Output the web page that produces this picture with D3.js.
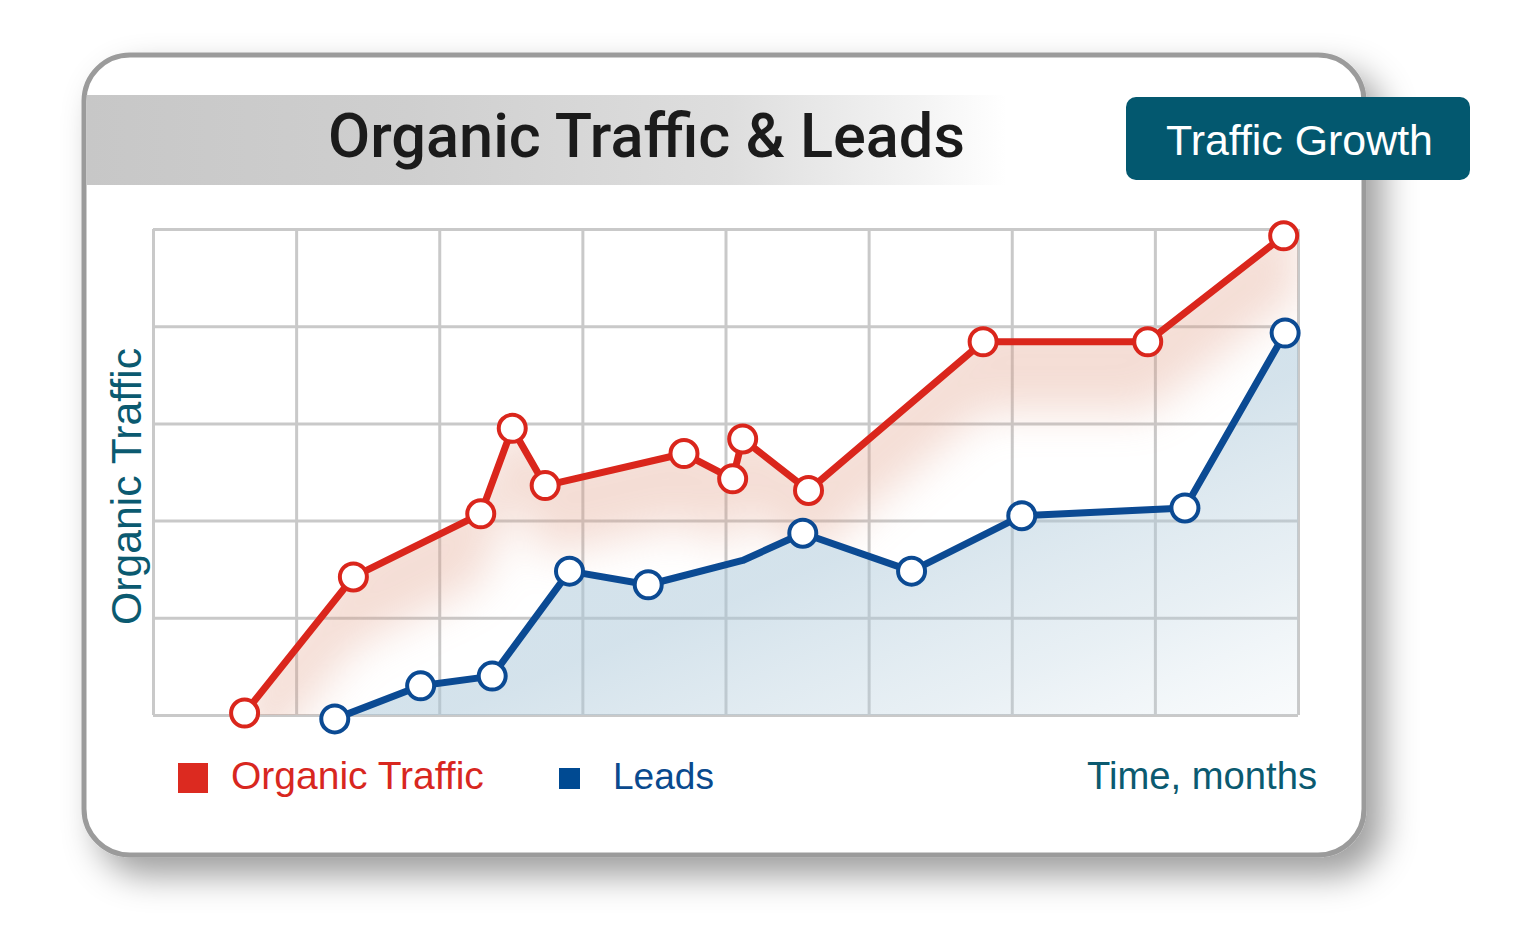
<!DOCTYPE html>
<html><head><meta charset="utf-8">
<script src="https://cdn.jsdelivr.net/npm/d3@7"></script>
<style>html,body{margin:0;padding:0;background:#fff;} svg{display:block}</style>
</head><body><svg id="c" width="1536" height="941"></svg>
<script>
// ---- data ----
const monthTicks = [0,1,2,3,4,5,6,7,8];
const levelTicks = [0,1,2,3,4,5];
const trafficMonths = [0.64,1.40,2.29,2.51,2.74,3.71,4.05,4.12,4.58,5.80,6.95,7.90];
const trafficValues = [0.02,1.42,2.07,2.95,2.36,2.69,2.43,2.84,2.31,3.84,3.84,4.93];
const leadsMonths = [1.27,1.87,2.37,2.91,3.46,4.12,4.54,5.30,6.07,7.21,7.91];
const leadsValues = [-0.04,0.30,0.40,1.48,1.34,1.59,1.87,1.48,2.05,2.13,3.93];
const leadsMarked = [true,true,true,true,true,false,true,true,true,true,true];
const seriesNames = ["Organic Traffic","Leads"];
const titleText = "Organic Traffic & Leads";
const badgeText = "Traffic Growth";
const yAxisTitle = "Organic Traffic";
const xAxisTitle = "Time, months";

// ---- layout ----
const svg = d3.select("#c");
const P = {left:153, right:1298, top:229, bottom:715};
const x = d3.scaleLinear().domain([0,8]).range([P.left,P.right]);
const y = d3.scaleLinear().domain([0,5]).range([P.bottom,P.top]);
const RED = "#da261c", BLUE = "#0b4a93", TEAL = "#0b5a70";
const sans = "'Liberation Sans', Arial, Helvetica, sans-serif";

const defs = svg.append("defs");
const sh = defs.append("filter").attr("id","shadow").attr("x","-10%").attr("y","-10%").attr("width","125%").attr("height","130%");
sh.append("feDropShadow").attr("dx",16).attr("dy",18).attr("stdDeviation",17)
  .attr("flood-color","#000").attr("flood-opacity",0.38);

const bannerG = defs.append("linearGradient").attr("id","banner").attr("x1",0).attr("x2",1).attr("y1",0).attr("y2",0);
[[0,"#c7c7c7"],[0.35,"#cfcfcf"],[0.7,"#dedede"],[0.9,"#f3f3f3"],[1,"#ffffff"]]
  .forEach(([o,c])=>bannerG.append("stop").attr("offset",o).attr("stop-color",c));

const blueG = defs.append("linearGradient").attr("id","blueFill").attr("x1",0).attr("y1",0).attr("x2",1).attr("y2",1);
[[0,"#a9c6d8",0.55],[0.55,"#a9c6d8",0.5],[0.8,"#b4cddc",0.3],[1,"#c5d8e4",0.1]]
  .forEach(([o,c,a])=>blueG.append("stop").attr("offset",o).attr("stop-color",c).attr("stop-opacity",a));

const soft = defs.append("filter").attr("id","soft").attr("filterUnits","userSpaceOnUse")
  .attr("x",0).attr("y",0).attr("width",1536).attr("height",941);
soft.append("feGaussianBlur").attr("stdDeviation",22);

// ---- card ----
svg.append("rect").attr("x",84).attr("y",55).attr("width",1280).attr("height",800).attr("rx",46)
  .attr("fill","#fff").attr("stroke","#9b9b9b").attr("stroke-width",5).attr("filter","url(#shadow)");
svg.append("rect").attr("x",86.5).attr("y",95).attr("width",920).attr("height",90).attr("fill","url(#banner)");

const title = svg.append("text").attr("x",646.5).attr("y",157).attr("text-anchor","middle")
  .attr("fill","#1b1b1b").style("font-family","Roboto, sans-serif").style("font-weight",500).text(titleText);
function fit(sel,w){sel.style("font-size","100px");const L=sel.node().getComputedTextLength();sel.style("font-size",(100*w/L)+"px");}
fit(title,637);

svg.append("rect").attr("x",1126).attr("y",97).attr("width",344).attr("height",83).attr("rx",10).attr("fill","#03586f");
const badge = svg.append("text").attr("x",1299.5).attr("y",155).attr("text-anchor","middle")
  .attr("fill","#fff").style("font-family",sans).text(badgeText);
fit(badge,267);

// ---- grid ----
const grid = svg.append("g");
grid.append("g").attr("transform",`translate(0,${P.bottom})`)
  .call(d3.axisBottom(x).tickValues(monthTicks).tickSize(-(P.bottom-P.top)).tickFormat(""))
  .call(g=>{g.select(".domain").remove();g.selectAll("line").attr("stroke","#c9c9c9").attr("stroke-width",3);});
grid.append("g").attr("transform",`translate(${P.left},0)`)
  .call(d3.axisLeft(y).tickValues(levelTicks).tickSize(-(P.right-P.left)).tickFormat(""))
  .call(g=>{g.select(".domain").remove();g.selectAll("line").attr("stroke","#c9c9c9").attr("stroke-width",3);});

// ---- series data ----
const traffic = trafficMonths.map((m,i)=>[m,trafficValues[i]]);
const leads = leadsMonths.map((m,i)=>[m,leadsValues[i],leadsMarked[i]]);
const trafficExt = traffic.concat([[x.domain()[1], traffic[traffic.length-1][1]]]);
const leadsExt = leads.concat([[x.domain()[1], leads[leads.length-1][1]]]);

const area0 = d3.area().x(d=>x(d[0])).y0(y(0)).y1(d=>y(d[1]));
defs.append("clipPath").attr("id","redClip").append("path").attr("d",area0(trafficExt));
const mask = defs.append("mask").attr("id","noBlue").attr("maskUnits","userSpaceOnUse")
  .attr("x",0).attr("y",0).attr("width",1536).attr("height",941);
mask.append("rect").attr("width",1536).attr("height",941).attr("fill","#fff");
mask.append("path").attr("d",area0(leadsExt)).attr("fill","#000");

const band = d3.area().x(d=>x(d[0])).y0(d=>y(d[1])-30).y1(d=>y(d[1])+70);
svg.append("g").attr("clip-path","url(#redClip)").attr("mask","url(#noBlue)")
  .append("path").attr("d",band(trafficExt)).attr("fill","#e09c84").attr("opacity",0.34).attr("filter","url(#soft)");

svg.append("path").attr("d",area0(leadsExt)).attr("fill","url(#blueFill)");

// ---- lines ----
const line = d3.line().x(d=>x(d[0])).y(d=>y(d[1]));
svg.append("path").attr("d",line(traffic)).attr("fill","none").attr("stroke",RED).attr("stroke-width",7).attr("stroke-linejoin","round");
svg.append("path").attr("d",line(leads)).attr("fill","none").attr("stroke",BLUE).attr("stroke-width",7).attr("stroke-linejoin","round");

svg.append("g").selectAll("circle").data(traffic).join("circle")
  .attr("cx",d=>x(d[0])).attr("cy",d=>y(d[1])).attr("r",13.5)
  .attr("fill","#fff").attr("stroke",RED).attr("stroke-width",4);
svg.append("g").selectAll("circle").data(leads.filter(d=>d[2])).join("circle")
  .attr("cx",d=>x(d[0])).attr("cy",d=>y(d[1])).attr("r",13.5)
  .attr("fill","#fff").attr("stroke",BLUE).attr("stroke-width",4);

// ---- axis titles & legend ----
const yt = svg.append("text").attr("transform",`translate(141,486.5) rotate(-90)`)
  .attr("text-anchor","middle").attr("fill",TEAL).style("font-family",sans).text(yAxisTitle);
fit(yt,277);

svg.append("rect").attr("x",178).attr("y",763).attr("width",30).attr("height",30).attr("fill","#dc2a20");
const l1 = svg.append("text").attr("x",231).attr("y",789).attr("fill","#d8271f").style("font-family",sans).text(seriesNames[0]);
fit(l1,253);
svg.append("rect").attr("x",559).attr("y",768).attr("width",21).attr("height",21).attr("fill","#004a92");
const l2 = svg.append("text").attr("x",613).attr("y",789).attr("fill","#0a4a8e").style("font-family",sans).text(seriesNames[1]);
fit(l2,101);
const xt = svg.append("text").attr("x",1317).attr("y",789).attr("text-anchor","end").attr("fill",TEAL).style("font-family",sans).text(xAxisTitle);
fit(xt,230);
</script></body></html>
